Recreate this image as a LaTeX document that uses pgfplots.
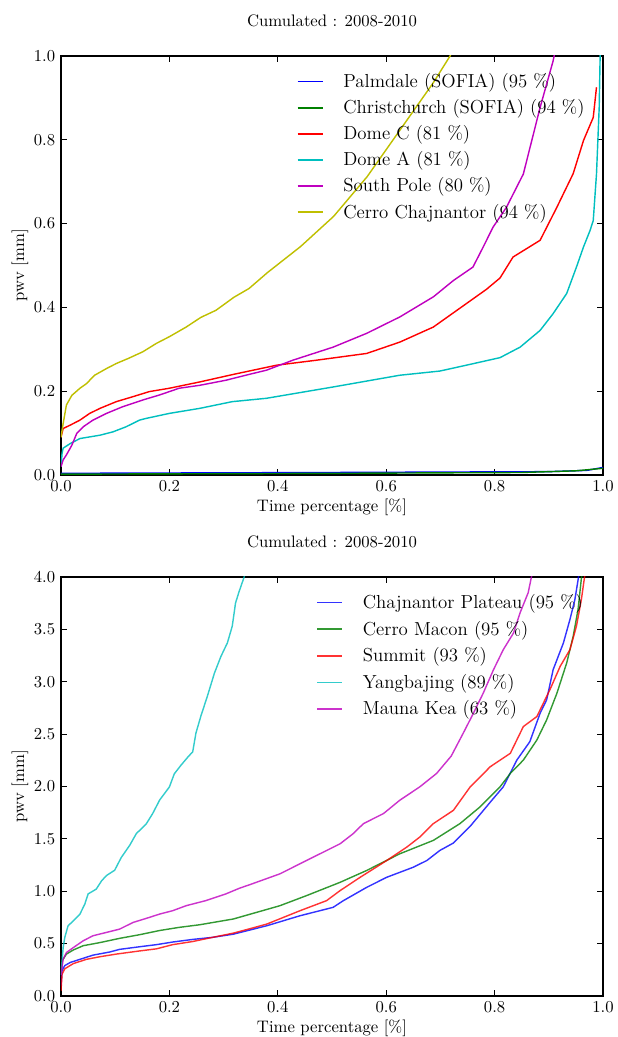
\documentclass[border=0pt]{standalone}
\usepackage{pgfplots}
\pgfplotsset{compat=1.18}
\definecolor{plotBlue}{rgb}{0,0,1}
\definecolor{plotGreen}{rgb}{0,0.5,0}
\definecolor{plotRed}{rgb}{1,0,0}
\definecolor{plotCyan}{rgb}{0,0.75,0.75}
\definecolor{plotMagenta}{rgb}{0.75,0,0.75}
\definecolor{plotYellow}{rgb}{0.75,0.75,0}

\pgfplotsset{
  pwvstyle/.style={
    width=325.2pt, height=251.5pt, scale only axis,
    xmin=0, xmax=1,
    xtick={0,0.2,0.4,0.6,0.8,1.0},
    tick align=inside, major tick length=3.5pt,
    xtick pos=both, ytick pos=both,
    axis line style={line width=0.8pt},
    every tick/.style={black, line width=0.5pt},
    tick label style={font=\fontsize{10.3}{12}\selectfont},
    x tick label style={/pgf/number format/.cd, fixed, fixed zerofill, precision=1},
    y tick label style={/pgf/number format/.cd, fixed, fixed zerofill, precision=1},
    label style={font=\fontsize{11.4}{13}\selectfont},
    xlabel={Time percentage [\%]},
    ylabel={pwv [mm]},
    every axis x label/.style={at={(axis description cs:0.5,-0.076)}, anchor=center},
    every axis y label/.style={at={(axis description cs:-0.0757,0.5)}, rotate=90, anchor=center},
    title style={font=\fontsize{10}{12}\selectfont, at={(axis description cs:0.5,1)}, anchor=south, yshift=8pt},
    title={Cumulated : 2008-2010},
    legend cell align=left,
    every axis plot/.append style={line width=0.85pt},
  }
}

\begin{document}
\begin{tikzpicture}
\useasboundingbox (-36.6pt,-337.2pt) rectangle (334.2pt,285pt);

% top panel
\begin{axis}[
  pwvstyle,
  ymin=0, ymax=1,
  ytick={0,0.2,0.4,0.6,0.8,1.0},
  legend image code/.code={\draw[#1, line width=1pt] (0pt,0pt) -- (15pt,0pt); \path[draw=none] (0pt,0pt) -- (25.5pt,0pt);},
  legend style={draw=none, fill=none, at={(0.425,0.975)}, anchor=north west,
    font=\fontsize{11.3}{13}\selectfont, row sep=1.7pt},
]
\addplot[color=plotBlue] coordinates {(0,0.004)(0.5,0.006)(0.9,0.008)(0.97,0.011)(1.0,0.018)};
\addplot[color=plotGreen] coordinates {(0,0.002)(0.5,0.004)(0.85,0.006)(0.95,0.010)(1.0,0.016)};
\addplot[color=plotRed] coordinates {(0,0.09)(0.004,0.111)(0.017,0.119)(0.035,0.131)(0.053,0.147)(0.072,0.159)(0.102,0.175)(0.133,0.187)(0.163,0.199)(0.2,0.207)(0.256,0.222)(0.318,0.240)(0.347,0.248)(0.398,0.262)(0.472,0.274)(0.564,0.290)(0.625,0.317)(0.687,0.353)(0.748,0.409)(0.785,0.443)(0.81,0.47)(0.834,0.52)(0.884,0.56)(0.915,0.639)(0.945,0.719)(0.964,0.798)(0.982,0.853)(0.988,0.925)};
\addplot[color=plotCyan] coordinates {(0,0.02)(0.002,0.052)(0.004,0.064)(0.017,0.075)(0.035,0.087)(0.072,0.095)(0.096,0.103)(0.12,0.115)(0.145,0.131)(0.157,0.135)(0.2,0.147)(0.256,0.159)(0.316,0.175)(0.379,0.183)(0.502,0.21)(0.625,0.238)(0.699,0.248)(0.748,0.262)(0.81,0.28)(0.847,0.305)(0.884,0.345)(0.908,0.385)(0.933,0.433)(0.951,0.496)(0.964,0.544)(0.976,0.583)(0.982,0.607)(0.988,0.718)(0.993,0.877)(0.995,1.02)};
\addplot[color=plotMagenta] coordinates {(0,0.02)(0.004,0.036)(0.01,0.048)(0.02,0.071)(0.029,0.099)(0.041,0.115)(0.059,0.131)(0.084,0.147)(0.114,0.163)(0.151,0.179)(0.182,0.191)(0.218,0.207)(0.256,0.214)(0.304,0.226)(0.347,0.240)(0.379,0.25)(0.428,0.274)(0.502,0.305)(0.564,0.338)(0.625,0.377)(0.687,0.425)(0.724,0.464)(0.76,0.496)(0.779,0.544)(0.797,0.591)(0.822,0.639)(0.853,0.718)(0.884,0.877)(0.908,0.988)(0.913,1.02)};
\addplot[color=plotYellow] coordinates {(0,0.09)(0.004,0.123)(0.01,0.167)(0.02,0.19)(0.035,0.207)(0.047,0.218)(0.062,0.238)(0.084,0.254)(0.102,0.266)(0.124,0.278)(0.151,0.294)(0.176,0.314)(0.2,0.33)(0.231,0.353)(0.258,0.376)(0.286,0.393)(0.319,0.424)(0.347,0.445)(0.381,0.483)(0.442,0.545)(0.503,0.617)(0.565,0.712)(0.626,0.824)(0.687,0.936)(0.718,1.0)(0.725,1.02)};
\legend{Palmdale (SOFIA) (95 \%), Christchurch (SOFIA) (94 \%), Dome C (81 \%), Dome A (81 \%), South Pole (80 \%), Cerro Chajnantor (94 \%)}
\end{axis}

% bottom panel
\begin{axis}[
  pwvstyle,
  at={(0pt,-312.6pt)}, anchor=south west,
  ymin=0, ymax=4,
  ytick={0,0.5,1,1.5,2,2.5,3,3.5,4},
  every axis plot/.append style={opacity=0.8},
  legend image code/.code={\draw[#1, line width=1pt] (0pt,0pt) -- (15pt,0pt); \path[draw=none] (0pt,0pt) -- (25.5pt,0pt);},
  legend style={draw=none, fill=none, at={(0.461,0.975)}, anchor=north west,
    font=\fontsize{11.3}{13}\selectfont, row sep=2pt},
]
\addplot[color=plotBlue] coordinates {(0,0.1)(0.002,0.244)(0.007,0.29)(0.017,0.32)(0.035,0.35)(0.059,0.39)(0.09,0.42)(0.108,0.445)(0.145,0.47)(0.176,0.49)(0.206,0.515)(0.243,0.54)(0.28,0.56)(0.318,0.59)(0.380,0.671)(0.441,0.766)(0.502,0.846)(0.521,0.91)(0.564,1.037)(0.601,1.133)(0.65,1.229)(0.675,1.293)(0.699,1.389)(0.724,1.46)(0.755,1.62)(0.792,1.85)(0.816,1.996)(0.841,2.251)(0.865,2.427)(0.884,2.699)(0.896,2.826)(0.908,3.114)(0.927,3.37)(0.939,3.593)(0.948,3.78)(0.954,3.97)(0.956,4.05)};
\addplot[color=plotGreen] coordinates {(0,0.2)(0.002,0.335)(0.01,0.40)(0.023,0.44)(0.041,0.48)(0.072,0.51)(0.108,0.55)(0.145,0.585)(0.182,0.625)(0.218,0.655)(0.256,0.68)(0.318,0.735)(0.404,0.862)(0.453,0.958)(0.515,1.085)(0.564,1.198)(0.625,1.357)(0.687,1.485)(0.736,1.645)(0.773,1.804)(0.81,1.996)(0.829,2.124)(0.853,2.251)(0.878,2.443)(0.896,2.635)(0.915,2.89)(0.933,3.178)(0.945,3.433)(0.954,3.689)(0.96,3.98)(0.962,4.05)};
\addplot[color=plotRed] coordinates {(0,0.05)(0.002,0.21)(0.007,0.26)(0.023,0.31)(0.047,0.35)(0.072,0.375)(0.102,0.40)(0.145,0.43)(0.176,0.45)(0.206,0.49)(0.243,0.52)(0.28,0.56)(0.318,0.60)(0.347,0.64)(0.380,0.687)(0.441,0.814)(0.490,0.91)(0.515,1.006)(0.552,1.133)(0.601,1.293)(0.638,1.421)(0.662,1.517)(0.687,1.645)(0.724,1.772)(0.755,1.996)(0.792,2.188)(0.829,2.316)(0.853,2.571)(0.878,2.667)(0.89,2.795)(0.902,2.922)(0.921,3.146)(0.939,3.305)(0.951,3.529)(0.96,3.78)(0.966,4.0)(0.968,4.05)};
\addplot[color=plotCyan] coordinates {(0,0.2)(0.002,0.335)(0.004,0.463)(0.007,0.559)(0.013,0.67)(0.023,0.718)(0.035,0.782)(0.044,0.878)(0.05,0.974)(0.065,1.02)(0.075,1.10)(0.084,1.15)(0.099,1.20)(0.111,1.32)(0.127,1.44)(0.139,1.55)(0.157,1.64)(0.169,1.74)(0.182,1.87)(0.2,1.995)(0.209,2.12)(0.221,2.20)(0.234,2.28)(0.243,2.33)(0.249,2.51)(0.258,2.67)(0.27,2.86)(0.283,3.08)(0.295,3.24)(0.307,3.37)(0.316,3.53)(0.322,3.75)(0.328,3.85)(0.338,4.0)(0.34,4.05)};
\addplot[color=plotMagenta] coordinates {(0,0.2)(0.004,0.35)(0.01,0.415)(0.023,0.463)(0.041,0.527)(0.059,0.575)(0.084,0.607)(0.108,0.638)(0.133,0.702)(0.163,0.75)(0.182,0.782)(0.206,0.814)(0.231,0.862)(0.267,0.91)(0.304,0.974)(0.330,1.03)(0.347,1.06)(0.404,1.166)(0.453,1.293)(0.515,1.453)(0.539,1.549)(0.558,1.645)(0.595,1.741)(0.625,1.868)(0.662,1.996)(0.693,2.124)(0.72,2.29)(0.742,2.507)(0.761,2.699)(0.779,2.89)(0.798,3.114)(0.816,3.305)(0.835,3.465)(0.847,3.657)(0.862,3.849)(0.868,4.0)(0.87,4.05)};
\legend{Chajnantor Plateau (95 \%), Cerro Macon (95 \%), Summit (93 \%), Yangbajing (89 \%), Mauna Kea (63 \%)}
\end{axis}
\end{tikzpicture}
\end{document}
